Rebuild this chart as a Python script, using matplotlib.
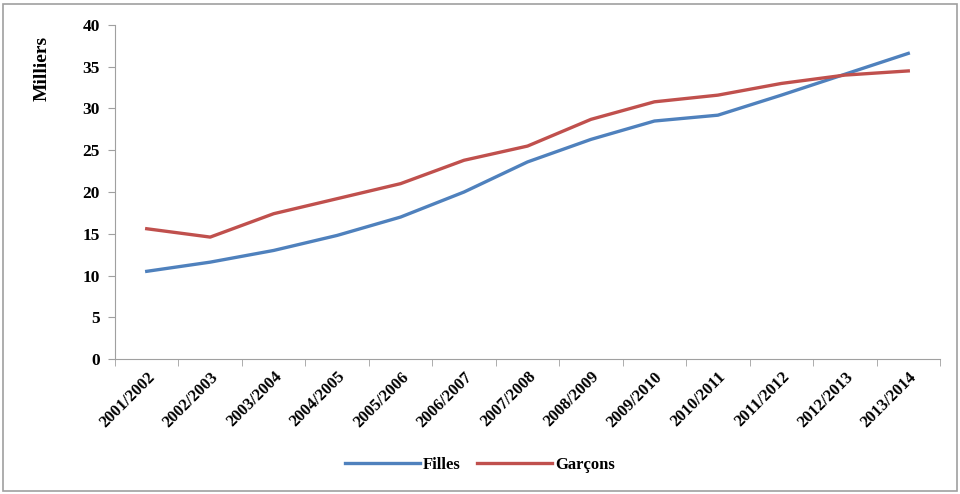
import matplotlib.pyplot as plt
import numpy as np
from matplotlib.patches import Rectangle

# school years
annees = ["2001/2002", "2002/2003", "2003/2004", "2004/2005", "2005/2006",
          "2006/2007", "2007/2008", "2008/2009", "2009/2010", "2010/2011",
          "2011/2012", "2012/2013", "2013/2014"]

# effectifs (milliers)
filles = [10.5, 11.6, 13.0, 14.8, 17.0, 20.0, 23.6, 26.3, 28.5, 29.2, 31.6, 34.1, 36.6]
garcons = [15.6, 14.6, 17.4, 19.2, 21.0, 23.8, 25.5, 28.7, 30.8, 31.6, 33.0, 34.0, 34.5]

plt.rcParams['font.family'] = ['Liberation Serif', 'DejaVu Serif']
plt.rcParams['font.weight'] = 'bold'

fig = plt.figure(figsize=(9.6, 4.94), dpi=100)
ax = fig.add_axes([115/960, 1 - 359/494, (940 - 115)/960, (359 - 25)/494])

x = np.arange(len(annees))
ax.plot(x, filles, color="#4F81BD", lw=2.4, label="Filles")
ax.plot(x, garcons, color="#C0504D", lw=2.4, label="Garçons")

ax.set_xlim(-0.5, len(annees) - 0.5)
ax.set_ylim(0, 40)
ax.set_yticks(range(0, 41, 5))
ax.set_xticks(x)
ax.set_xticklabels(annees, rotation=45, ha="right", rotation_mode="anchor",
                   fontsize=12, fontweight="bold")
ax.set_xticks(np.arange(-0.5, len(annees)), minor=True)
ax.tick_params(axis="x", which="major", length=0, pad=7)
ax.tick_params(axis="x", which="minor", length=5, color="#a0a0a0", direction="out")
ax.tick_params(axis="y", length=5, color="#a0a0a0", labelsize=12.5, pad=6)
for lab in ax.get_yticklabels():
    lab.set_fontweight("bold")

for s in ["top", "right"]:
    ax.spines[s].set_visible(False)
for s in ["left", "bottom"]:
    ax.spines[s].set_color("#a0a0a0")

ax.set_ylabel("Milliers", fontsize=14, fontweight="bold")
ax.yaxis.set_label_coords(-0.078, 0.87)

fig.legend(loc="center", bbox_to_anchor=(0.5, 1 - 465/494), ncol=2, frameon=False,
           prop={"weight": "bold", "size": 12}, handlelength=4.5, handletextpad=0.15,
           columnspacing=1.0)

# outer frame of the chart
fig.patches.append(Rectangle((3/960, 3/494), 954/960, 487/494, transform=fig.transFigure,
                             fill=False, edgecolor="#a0a0a0", lw=1.2))

fig.savefig("out.png", dpi=100)
